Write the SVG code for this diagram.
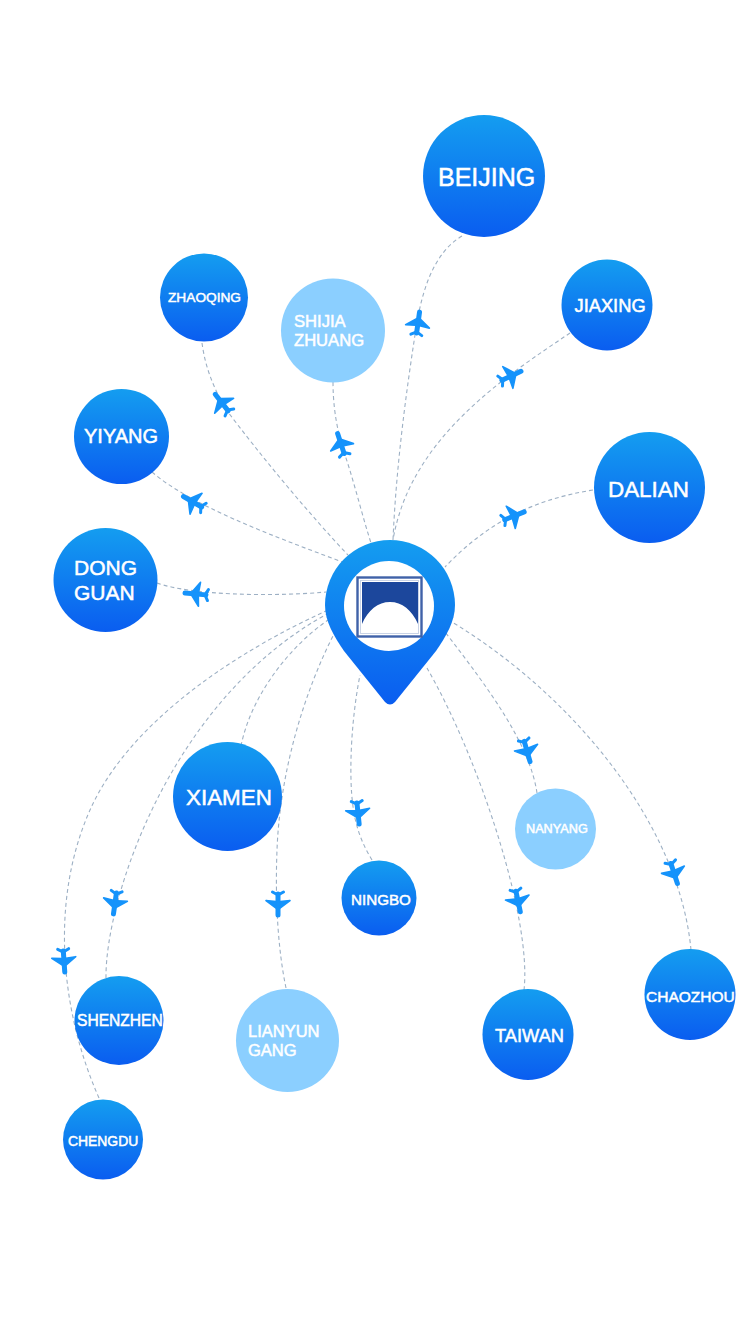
<svg xmlns="http://www.w3.org/2000/svg" width="750" height="1334" viewBox="0 0 750 1334">
<style>
text{font-family:"Liberation Sans",Arial,sans-serif;fill:#fff;stroke:#fff;stroke-width:.5}
.n{fill:url(#g)}
.l{fill:#8bcfff}
#connectors path{fill:none;stroke:#9db0c4;stroke-width:1.1;stroke-dasharray:4 3}
.pb,.pw,.pf{stroke:#1593fb;stroke-linecap:round;stroke-linejoin:round}
.pb,.pw{fill:none}
.pf{fill:#1593fb;stroke-width:1.6}
.pb{stroke-width:5}
.pw{stroke-width:3}
</style>
<defs>
<linearGradient id="g" x1="0" y1="0" x2="0" y2="1"><stop offset="0" stop-color="#149df0"/><stop offset="1" stop-color="#0a5df0"/></linearGradient>
<filter id="soft" x="-5%" y="-5%" width="110%" height="110%"><feGaussianBlur stdDeviation="0.6"/></filter>
<g id="plane">
<path class="pb" d="M0-11V10"/>
<path class="pf" d="M-12 3.5L-2-4V2.5ZM12 3.500L2-4V2.500Z"/>
<path class="pw" d="M-5.500 12L0 9 5.500 12"/>
</g>
</defs>
<rect width="750" height="1334" fill="#fff"/>
<g id="connectors">
<path d="M462 236C430 255 420 300 415 335C405 400 396 470 393 540"/>
<path d="M570 333C500 380 410 440 393 540"/>
<path d="M593 490C530 500 485 525 445 567"/>
<path d="M202 343C205 365 212 385 225 408C260 455 310 515 348 555"/>
<path d="M333 382C333 420 342 445 345 455C355 485 362 515 371 543"/>
<path d="M152 472C190 505 270 535 345 563"/>
<path d="M157 583C190 595 270 597 326 592"/>
<path d="M241 746C250 700 285 650 328 620"/>
<path d="M286 988C278 950 275 900 277 850C280 770 305 690 335 632"/>
<path d="M372 860C360 840 352 820 351 780C350 740 355 700 360 675"/>
<path d="M106 978C105 900 170 700 327 614"/>
<path d="M99 1098C60 1010 50 900 90 810C130 720 240 650 326 611"/>
<path d="M524 990C532 920 480 760 427 668"/>
<path d="M537 793C530 745 490 690 445 632"/>
<path d="M691 950C680 830 580 700 452 622"/>
</g>
<g id="planes">
<use href="#plane" transform="translate(418 323) rotate(8)"/>
<use href="#plane" transform="translate(511 376) rotate(65)"/>
<use href="#plane" transform="translate(514 516) rotate(68)"/>
<use href="#plane" transform="translate(222 403) rotate(-38)"/>
<use href="#plane" transform="translate(341 444) rotate(-18)"/>
<use href="#plane" transform="translate(193 502) rotate(-60)"/>
<use href="#plane" transform="translate(196 594) rotate(-85)"/>
<use href="#plane" transform="translate(527 751) rotate(164)"/>
<use href="#plane" transform="translate(674 873) rotate(162)"/>
<use href="#plane" transform="translate(518 901) rotate(168)"/>
<use href="#plane" transform="translate(358 813) rotate(174)"/>
<use href="#plane" transform="translate(278 904) rotate(180)"/>
<use href="#plane" transform="translate(115 903) rotate(188)"/>
<use href="#plane" transform="translate(64 961) rotate(176)"/>
</g>
<g id="hub">
<path class="n" d="M390 540A65 65 0 0 1 455 605C455 622 446 636 436 651L395 702Q390 707 385 702L344 651C334 636 325 622 325 605A65 65 0 0 1 390 540Z"/>
<circle cx="389" cy="606" r="45" fill="#fff"/>
<g filter="url(#soft)">
<rect x="357.5" y="577.5" width="64" height="59" fill="#fff" stroke="#3f62a8" stroke-width="2.4"/>
<rect x="360.5" y="580.5" width="58" height="53" fill="none" stroke="#c9d3e6" stroke-width="1"/>
<path d="M362 582H418V624C412 610 402 602 390 602C378 602 368 610 362 624Z" fill="#1a479c"/>
</g>
</g>
<g id="beijing"><circle class="n" cx="484" cy="176" r="61"/><text x="438" y="186" font-size="25">BEIJING</text></g>
<g id="jiaxing"><circle class="n" cx="607" cy="305" r="45.5"/><text x="574.5" y="312" font-size="18.3">JIAXING</text></g>
<g id="dalian"><circle class="n" cx="649.5" cy="487.5" r="55.5"/><text x="608" y="497" font-size="22.4">DALIAN</text></g>
<g id="zhaoqing"><circle class="n" cx="204" cy="297.5" r="44"/><text x="168" y="302" font-size="13.7">ZHAOQING</text></g>
<g id="shijiazhuang"><circle class="l" cx="333" cy="330.5" r="52"/><text font-size="16.6"><tspan x="294" y="326.500">SHIJIA</tspan><tspan x="294" y="346">ZHUANG</tspan></text></g>
<g id="yiyang"><circle class="n" cx="121.5" cy="436.5" r="47.5"/><text x="84" y="442.500" font-size="20">YIYANG</text></g>
<g id="dongguan"><circle class="n" cx="105.5" cy="580" r="52"/><text font-size="21"><tspan x="74" y="575">DONG</tspan><tspan x="74" y="600">GUAN</tspan></text></g>
<g id="xiamen"><circle class="n" cx="227.5" cy="796.5" r="54.5"/><text x="186" y="804.500" font-size="22.4">XIAMEN</text></g>
<g id="ningbo"><circle class="n" cx="379" cy="898" r="37.5"/><text x="351" y="904.500" font-size="15.2">NINGBO</text></g>
<g id="nanyang"><circle class="l" cx="555.5" cy="829" r="40.5"/><text x="526" y="833" font-size="12.7">NANYANG</text></g>
<g id="chaozhou"><circle class="n" cx="690" cy="994.5" r="45.5"/><text x="646" y="1001.500" font-size="15.5">CHAOZHOU</text></g>
<g id="taiwan"><circle class="n" cx="528" cy="1034.5" r="45.5"/><text x="495" y="1042" font-size="18.3">TAIWAN</text></g>
<g id="lianyungang"><circle class="l" cx="287.5" cy="1040.5" r="51.5"/><text font-size="16.5"><tspan x="248" y="1036.500">LIANYUN</tspan><tspan x="248" y="1055.500">GANG</tspan></text></g>
<g id="shenzhen"><circle class="n" cx="119" cy="1020.5" r="44.5"/><text x="77" y="1026" font-size="15.6">SHENZHEN</text></g>
<g id="chengdu"><circle class="n" cx="103" cy="1139.5" r="40"/><text x="68" y="1146" font-size="13.9">CHENGDU</text></g>
</svg>
